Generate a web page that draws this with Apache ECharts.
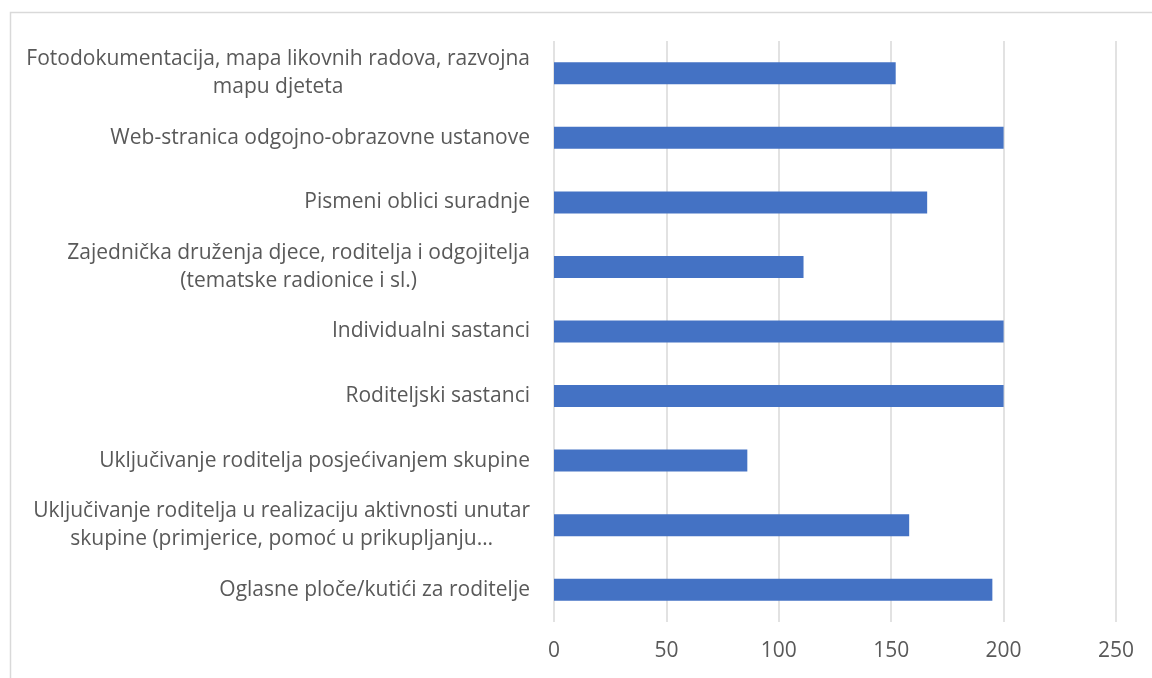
<!DOCTYPE html>
<html>
<head>
<meta charset="utf-8">
<script src="https://cdn.jsdelivr.net/npm/echarts@6/dist/echarts.min.js"></script>
<style>
  html, body { margin: 0; padding: 0; background: #fff; }
  #chart { width: 1152px; height: 678px; }
</style>
</head>
<body>
<div id="chart"></div>
<script>
// kategorije odozgo prema dolje
const categories = [
  'Fotodokumentacija, mapa likovnih radova, razvojna\nmapu djeteta',
  'Web-stranica odgojno-obrazovne ustanove',
  'Pismeni oblici suradnje',
  'Zajednička druženja djece, roditelja i odgojitelja\n(tematske radionice i sl.)',
  'Individualni sastanci',
  'Roditeljski sastanci',
  'Uključivanje roditelja posjećivanjem skupine',
  'Uključivanje roditelja u realizaciju aktivnosti unutar\nskupine (primjerice, pomoć u prikupljanju…',
  'Oglasne ploče/kutići za roditelje'
];
const values = [152, 200, 166, 111, 200, 200, 86, 158, 195];
const xTicks = { min: 0, max: 250, interval: 50 };

const labelFont = { fontFamily: 'Open Sans', fontSize: 21, color: '#595959' };

const chart = echarts.init(document.getElementById('chart'));
chart.setOption({
  animation: false,
  textStyle: { fontFamily: 'Open Sans' },
  graphic: [{
    type: 'rect',
    shape: { x: 10.5, y: 12.5, width: 1200, height: 700 },
    style: { fill: 'none', stroke: '#d9d9d9', lineWidth: 1.5 },
    silent: true
  }],
  grid: { left: 554, right: 36, top: 41, bottom: 56, containLabel: false },
  xAxis: {
    type: 'value',
    min: xTicks.min,
    max: xTicks.max,
    interval: xTicks.interval,
    axisLine: { show: false },
    axisTick: { show: false },
    axisLabel: Object.assign({ margin: 19 }, labelFont),
    splitLine: { lineStyle: { color: '#d9d9d9', width: 1.5 } }
  },
  yAxis: {
    type: 'category',
    inverse: true,
    data: categories,
    axisLine: { show: false },
    axisTick: { show: false },
    axisLabel: Object.assign({
      margin: 24,
      align: 'right',
      lineHeight: 28,
      formatter: (v) => v.split('\n').map((s) => '{c|' + s + '}').join('\n'),
      rich: { c: Object.assign({ align: 'center', lineHeight: 28 }, labelFont) }
    }, labelFont)
  },
  series: [{
    type: 'bar',
    data: values,
    barWidth: 22,
    itemStyle: { color: '#4472c4' }
  }]
});
</script>
</body>
</html>
